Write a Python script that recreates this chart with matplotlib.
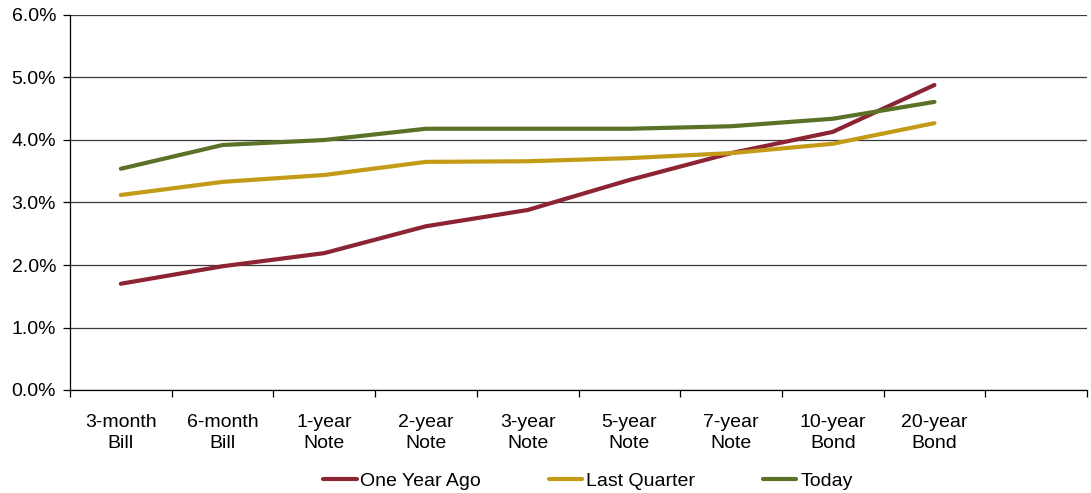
import matplotlib.pyplot as plt
from matplotlib.ticker import FixedLocator, PercentFormatter

plt.rcParams['font.family'] = ['Liberation Sans', 'DejaVu Sans']

maturities = ['3-month\nBill', '6-month\nBill', '1-year\nNote', '2-year\nNote',
              '3-year\nNote', '5-year\nNote', '7-year\nNote', '10-year\nBond',
              '20-year\nBond']

one_year_ago = [1.70, 1.98, 2.19, 2.62, 2.88, 3.36, 3.79, 4.13, 4.88]
last_quarter = [3.12, 3.33, 3.44, 3.65, 3.66, 3.71, 3.79, 3.94, 4.27]
today = [3.54, 3.92, 4.00, 4.18, 4.18, 4.18, 4.22, 4.34, 4.61]

series = [
    ('One Year Ago', one_year_ago, '#8c2434'),
    ('Last Quarter', last_quarter, '#c39b17'),
    ('Today', today, '#5b7127'),
]

FS = 14

fig = plt.figure(figsize=(10.91, 4.93), dpi=100)
ax = fig.add_axes([70 / 1091, 1 - 390 / 493, 1017 / 1091, 375 / 493])

x = list(range(len(maturities)))
for name, vals, color in series:
    ax.plot(x, vals, color=color, lw=3, label=name, solid_capstyle='round',
            solid_joinstyle='round')

# one empty slot at the right end of the category axis
ax.set_xlim(-0.5, len(maturities) + 0.5)
ax.set_ylim(0, 6)
ax.set_yticks([0, 1, 2, 3, 4, 5, 6])
ax.yaxis.set_major_formatter(PercentFormatter(decimals=1))
ax.grid(axis='y', color='#3a3a3a', lw=0.9)
ax.set_axisbelow(True)

ax.xaxis.set_major_locator(FixedLocator([i - 0.5 for i in range(len(maturities) + 2)]))
ax.set_xticklabels([])
ax.xaxis.set_minor_locator(FixedLocator(x))
ax.set_xticklabels(maturities, minor=True)
ax.tick_params(axis='x', which='minor', length=0, pad=17, labelsize=FS)
ax.tick_params(axis='x', which='major', length=5, width=0.9, color='black')
ax.tick_params(axis='y', length=5, width=0.9, labelsize=FS, pad=5)
for lbl in ax.get_xticklabels(minor=True):
    lbl.set_linespacing(1.35)

for side in ['top', 'right']:
    ax.spines[side].set_visible(False)
for side in ['left', 'bottom']:
    ax.spines[side].set_color('black')
    ax.spines[side].set_linewidth(0.9)

fig.legend(loc='center', bbox_to_anchor=(588 / 1091, 1 - 481 / 493), ncol=3,
           frameon=False, fontsize=FS, handlelength=1.7, handletextpad=0.2,
           columnspacing=3.5)

fig.savefig('out.png', dpi=100)
